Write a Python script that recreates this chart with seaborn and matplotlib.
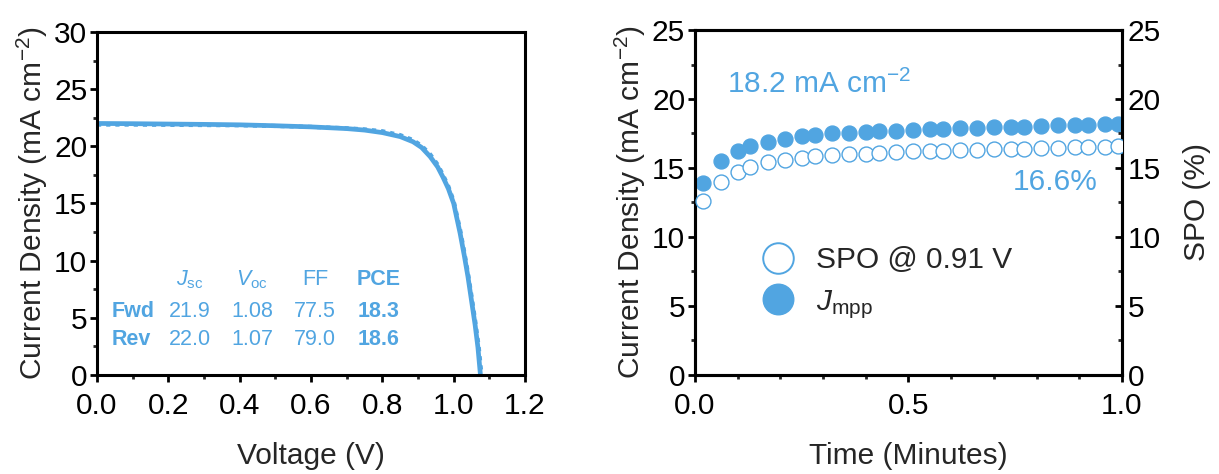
import matplotlib
matplotlib.use("Agg")
import matplotlib.pyplot as plt
import seaborn as sns
import pandas as pd
from matplotlib.ticker import MultipleLocator
from matplotlib.lines import Line2D

# ---------------- data ----------------
voltage_rev = [0.0, 0.1, 0.2, 0.3, 0.4, 0.5, 0.6, 0.7, 0.75, 0.8, 0.85, 0.886, 0.91, 0.934,
               0.955, 0.97, 0.985, 1.0, 1.018, 1.03, 1.04, 1.05, 1.06, 1.068, 1.075]
current_rev = [22.0, 21.98, 21.95, 21.92, 21.88, 21.8, 21.7, 21.55, 21.42, 21.2, 20.85, 20.4,
               19.9, 19.1, 18.2, 17.3, 16.3, 15.0, 12.4, 10.4, 8.6, 6.5, 4.4, 2.4, 0.0]
voltage_fwd = [0.0, 0.1, 0.2, 0.3, 0.4, 0.5, 0.6, 0.7, 0.75, 0.8, 0.85, 0.886, 0.91, 0.934,
               0.955, 0.97, 0.985, 1.0, 1.018, 1.03, 1.04, 1.05, 1.06, 1.07, 1.078]
current_fwd = [21.9, 21.9, 21.88, 21.86, 21.84, 21.78, 21.7, 21.58, 21.48, 21.32, 20.98, 20.55,
               20.05, 19.3, 18.4, 17.5, 16.5, 15.2, 12.7, 10.7, 8.9, 6.9, 4.8, 2.5, 0.0]

table_cols = ["$\\mathit{J}_{\\rm sc}$", "$\\mathit{V}_{\\rm oc}$", "FF", "PCE"]
table_rows = ["Fwd", "Rev"]
table_vals = [["21.9", "1.08", "77.5", "18.3"],
              ["22.0", "1.07", "79.0", "18.6"]]

time_min = [0.02, 0.06, 0.10, 0.13, 0.17, 0.21, 0.25, 0.28, 0.32, 0.36, 0.40, 0.43, 0.47,
            0.51, 0.55, 0.58, 0.62, 0.66, 0.70, 0.74, 0.77, 0.81, 0.85, 0.89, 0.92, 0.96, 0.99]
jmpp = [13.9, 15.5, 16.2, 16.6, 16.9, 17.1, 17.3, 17.4, 17.5, 17.55, 17.6, 17.65, 17.7,
        17.75, 17.8, 17.85, 17.9, 17.9, 17.95, 18.0, 18.0, 18.05, 18.1, 18.1, 18.15, 18.2, 18.2]
spo = [12.6, 14.0, 14.7, 15.1, 15.4, 15.6, 15.75, 15.85, 15.95, 16.0, 16.05, 16.1, 16.15,
       16.2, 16.2, 16.25, 16.3, 16.3, 16.35, 16.4, 16.4, 16.45, 16.45, 16.5, 16.5, 16.55, 16.6]

BLUE = "#51A5E1"

# ---------------- style ----------------
sns.set_theme(style="ticks")
plt.rcParams["font.family"] = ["Liberation Sans", "DejaVu Sans"]
plt.rcParams["mathtext.fontset"] = "custom"
plt.rcParams["mathtext.rm"] = "Liberation Sans"
plt.rcParams["mathtext.it"] = "Liberation Sans:italic"
plt.rcParams["mathtext.bf"] = "Liberation Sans:bold"
plt.rcParams["mathtext.default"] = "regular"

FS = 21.5
fig = plt.figure(figsize=(12.19, 4.74), dpi=100)
ax1 = fig.add_axes([0.0796, 0.2089, 0.4307 - 0.0796, 0.9325 - 0.2089])
ax2 = fig.add_axes([0.5701, 0.2089, 0.9204 - 0.5701, 0.9367 - 0.2089])


def style_axis(ax):
    for sp in ax.spines.values():
        sp.set_linewidth(2.2)
        sp.set_color("black")
        sp.set_visible(True)
    ax.tick_params(which="major", direction="out", length=5, width=2.0,
                   labelsize=FS, colors="black", pad=2)
    ax.tick_params(which="minor", direction="out", length=3, width=2.0)
    ax.tick_params(axis="x", which="major", pad=7)


# ---------------- left: J-V ----------------
df_rev = pd.DataFrame({"V": voltage_rev, "J": current_rev})
df_fwd = pd.DataFrame({"V": voltage_fwd, "J": current_fwd})
sns.lineplot(data=df_fwd, x="V", y="J", ax=ax1, color=BLUE, lw=3.0, linestyle=(0, (1, 1.2)),
             sort=False)
sns.lineplot(data=df_rev, x="V", y="J", ax=ax1, color=BLUE, lw=3.4, sort=False)
ax1.set_xlim(0, 1.2)
ax1.set_ylim(0, 30)
ax1.xaxis.set_major_locator(MultipleLocator(0.2))
ax1.xaxis.set_minor_locator(MultipleLocator(0.1))
ax1.yaxis.set_major_locator(MultipleLocator(5))
ax1.yaxis.set_minor_locator(MultipleLocator(2.5))
ax1.set_xticks([0, 0.2, 0.4, 0.6, 0.8, 1.0, 1.2])
ax1.set_xticklabels(["0.0", "0.2", "0.4", "0.6", "0.8", "1.0", "1.2"])
style_axis(ax1)
ax1.set_xlabel("Voltage (V)", fontsize=FS, labelpad=16)
ax1.set_ylabel("Current Density (mA cm$^{-2}$)", fontsize=FS, labelpad=3)

TFS = 15.5
col_x = [0.217, 0.362, 0.509, 0.657]
row_y = [0.184, 0.102]
for i, c in enumerate(table_cols):
    ax1.text(col_x[i], 0.277, c, transform=ax1.transAxes, ha="center", va="center",
             fontsize=TFS, color=BLUE, fontweight="bold" if c == "PCE" else "normal")
for r, name in enumerate(table_rows):
    ax1.text(0.035, row_y[r], name, transform=ax1.transAxes, ha="left", va="center",
             fontsize=TFS, color=BLUE, fontweight="bold")
    for i, v in enumerate(table_vals[r]):
        ax1.text(col_x[i], row_y[r], v, transform=ax1.transAxes, ha="center", va="center",
                 fontsize=TFS, color=BLUE, fontweight="bold" if i == 3 else "normal")

# ---------------- right: SPO ----------------
ax3 = ax2.twinx()
ax3.set_position(ax2.get_position())
df_t = pd.DataFrame({"t": time_min, "jmpp": jmpp, "spo": spo})
sns.scatterplot(data=df_t, x="t", y="jmpp", ax=ax2, s=115, color=BLUE, edgecolor=BLUE,
                linewidth=1.0, zorder=3)
sns.scatterplot(data=df_t, x="t", y="spo", ax=ax3, s=115, facecolor="white",
                edgecolor=BLUE, linewidth=1.0, zorder=3)
for ax in (ax2, ax3):
    ax.set_xlim(0, 1.0)
    ax.set_ylim(0, 25)
    ax.yaxis.set_major_locator(MultipleLocator(5))
    ax.yaxis.set_minor_locator(MultipleLocator(2.5))
ax2.xaxis.set_major_locator(MultipleLocator(0.5))
ax2.xaxis.set_minor_locator(MultipleLocator(0.1))
ax2.set_xticks([0, 0.5, 1.0])
ax2.set_xticklabels(["0.0", "0.5", "1.0"])
style_axis(ax2)
style_axis(ax3)
ax3.tick_params(axis="y", which="both", direction="in", pad=4)
ax2.set_xlabel("Time (Minutes)", fontsize=FS, labelpad=16)
ax2.set_ylabel("Current Density (mA cm$^{-2}$)", fontsize=FS, labelpad=3)
ax3.set_ylabel("SPO (%)", fontsize=FS, labelpad=16)

ax2.text(0.075, 0.817, "18.2 mA cm$^{-2}$", transform=ax2.transAxes, ha="left",
         va="baseline", fontsize=FS, color=BLUE)
ax2.text(0.944, 0.56, "16.6%", transform=ax2.transAxes, ha="right", va="center",
         fontsize=FS, color=BLUE)

handles = [Line2D([], [], marker="o", ls="none", markersize=22, markerfacecolor="white",
                  markeredgecolor=BLUE, markeredgewidth=1.4),
           Line2D([], [], marker="o", ls="none", markersize=22, markerfacecolor=BLUE,
                  markeredgecolor=BLUE)]
ax2.legend(handles, ["SPO @ 0.91 V", "$\\mathit{J}_{\\rm mpp}$"], loc="lower left",
           bbox_to_anchor=(0.08, 0.08), frameon=False, fontsize=FS, handletextpad=0.5,
           labelspacing=0.45, handlelength=1.5)

fig.savefig("out.png", dpi=100)
